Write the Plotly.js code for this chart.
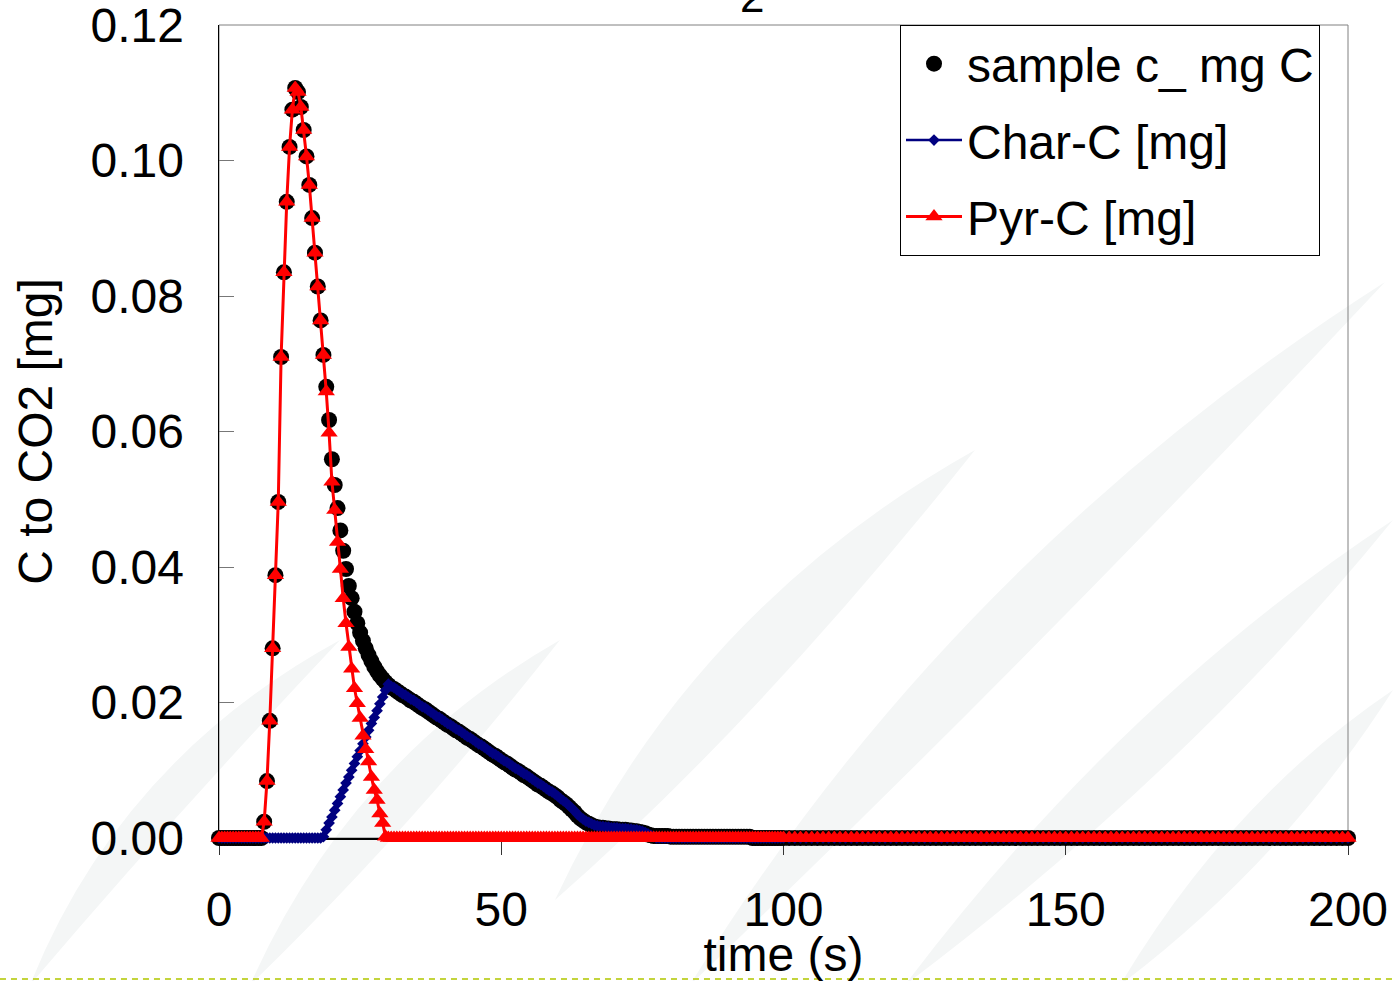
<!DOCTYPE html>
<html>
<head>
<meta charset="utf-8">
<script src="https://cdn.plot.ly/plotly-3.0.1.min.js"></script>
<style>
  html, body { margin: 0; padding: 0; background: #ffffff; }
  #chart { width: 1393px; height: 981px; }
</style>
</head>
<body>
<div id="chart"></div>
<script>
// ---------------- data ----------------
const time = [
  0,0.5,1,1.5,2,2.5,3,3.5,4,4.5,
  5,5.5,6,6.5,7,7.5,8,8.5,9,9.5,
  10,10.5,11,11.5,12,12.5,13,13.5,14,14.5,
  15,15.5,16,16.5,17,17.5,18,18.5,19,19.5,
  20,20.5,21,21.5,22,22.5,23,23.5,24,24.5,
  25,25.5,26,26.5,27,27.5,28,28.5,29,29.5,
  30,30.5,31,31.5,32,32.5,33,33.5,34,34.5,
  35,35.5,36,36.5,37,37.5,38,38.5,39,39.5,
  40,40.5,41,41.5,42,42.5,43,43.5,44,44.5,
  45,45.5,46,46.5,47,47.5,48,48.5,49,49.5,
  50,50.5,51,51.5,52,52.5,53,53.5,54,54.5,
  55,55.5,56,56.5,57,57.5,58,58.5,59,59.5,
  60,60.5,61,61.5,62,62.5,63,63.5,64,64.5,
  65,65.5,66,66.5,67,67.5,68,68.5,69,69.5,
  70,70.5,71,71.5,72,72.5,73,73.5,74,74.5,
  75,75.5,76,76.5,77,77.5,78,78.5,79,79.5,
  80,80.5,81,81.5,82,82.5,83,83.5,84,84.5,
  85,85.5,86,86.5,87,87.5,88,88.5,89,89.5,
  90,90.5,91,91.5,92,92.5,93,93.5,94,94.5,
  95,95.5,96,96.5,97,97.5,98,98.5,99,99.5,
  100,
  101,102,103,104,105,106,107,108,109,110,
  111,112,113,114,115,116,117,118,119,120,
  121,122,123,124,125,126,127,128,129,130,
  131,132,133,134,135,136,137,138,139,140,
  141,142,143,144,145,146,147,148,149,150,
  151,152,153,154,155,156,157,158,159,160,
  161,162,163,164,165,166,167,168,169,170,
  171,172,173,174,175,176,177,178,179,180,
  181,182,183,184,185,186,187,188,189,190,
  191,192,193,194,195,196,197,198,199,200
];

const sampleC = [
  0,0,0,0,0,0,0,0,0,0,
  0,0,0,0,0,0,0.0024,0.0084,0.0173,0.0280,
  0.0388,0.0496,0.0710,0.0835,0.0939,0.1020,0.1075,0.1107,0.1101,0.1079,
  0.1045,0.1006,0.0964,0.0915,0.0864,0.0814,0.0764,0.0713,0.0666,0.0617,
  0.0559,0.0521,0.0487,0.0454,0.0424,0.0397,0.0372,0.0354,0.0334,0.0317,
  0.0303,0.0291,0.0280,0.0270,0.0261,0.0253,0.0246,0.0240,0.0235,0.0230,
  0.0226,0.0222,0.0220,0.0217,0.0214,0.0211,0.0209,0.0206,0.0203,0.0201,
  0.0198,0.0195,0.0192,0.0190,0.0187,0.0184,0.0181,0.0178,0.0176,0.0173,
  0.0170,0.0167,0.0165,0.0162,0.0159,0.0157,0.0154,0.0151,0.0148,0.0146,
  0.0143,0.0140,0.0137,0.0135,0.0132,0.0129,0.0126,0.0123,0.0121,0.0118,
  0.0115,0.0112,0.0110,0.0107,0.0104,0.0101,0.0099,0.0096,0.0093,0.0091,
  0.0088,0.0085,0.0082,0.0079,0.0077,0.0074,0.0071,0.0068,0.0066,0.0063,
  0.0060,0.0056,0.0053,0.0050,0.0046,0.0042,0.0038,0.0033,0.0029,0.0026,
  0.0023,0.0021,0.0019,0.0017,0.0016,0.0015,0.0015,0.0014,0.0014,0.0013,
  0.0013,0.0013,0.0012,0.0012,0.0012,0.0011,0.0011,0.0010,0.0010,0.0009,
  0.0008,0.0007,0.0005,0.0004,0.0003,0.0003,0.0003,0.0003,0.0003,0.0003,
  0.0002,0.0002,0.0002,0.0002,0.0002,0.0002,0.0002,0.0002,0.0002,0.0002,
  0.0002,0.0002,0.0002,0.0002,0.0002,0.0002,0.0002,0.0002,0.0002,0.0002,
  0.0002,0.0002,0.0002,0.0002,0.0002,0.0002,0.0002,0.0002,0.0002,0,
  0,0,0,0,0,0,0,0,0,0,
  0,
  0,0,0,0,0,0,0,0,0,0,
  0,0,0,0,0,0,0,0,0,0,
  0,0,0,0,0,0,0,0,0,0,
  0,0,0,0,0,0,0,0,0,0,
  0,0,0,0,0,0,0,0,0,0,
  0,0,0,0,0,0,0,0,0,0,
  0,0,0,0,0,0,0,0,0,0,
  0,0,0,0,0,0,0,0,0,0,
  0,0,0,0,0,0,0,0,0,0,
  0,0,0,0,0,0,0,0,0,0
];

const charC = [
  0,0,0,0,0,0,0,0,0,0,
  0,0,0,0,0,0,0,0,0,0,
  0,0,0,0,0,0,0,0,0,0,
  0,0,0,0,0,0,0,0.0002,0.0012,0.0022,
  0.0031,0.0041,0.0051,0.0061,0.0071,0.0081,0.0090,0.0100,0.0110,0.0120,
  0.0129,0.0139,0.0149,0.0159,0.0169,0.0178,0.0188,0.0198,0.0208,0.0218,
  0.0227,0.0224,0.0222,0.0219,0.0216,0.0213,0.0211,0.0208,0.0205,0.0203,
  0.0200,0.0197,0.0194,0.0192,0.0189,0.0186,0.0183,0.0180,0.0178,0.0175,
  0.0172,0.0169,0.0167,0.0164,0.0161,0.0159,0.0156,0.0153,0.0150,0.0148,
  0.0145,0.0142,0.0139,0.0137,0.0134,0.0131,0.0128,0.0125,0.0123,0.0120,
  0.0117,0.0114,0.0112,0.0109,0.0106,0.0103,0.0101,0.0098,0.0095,0.0093,
  0.0090,0.0087,0.0084,0.0081,0.0079,0.0076,0.0073,0.0070,0.0068,0.0065,
  0.0062,0.0058,0.0055,0.0052,0.0048,0.0044,0.0040,0.0035,0.0031,0.0028,
  0.0025,0.0023,0.0021,0.0019,0.0018,0.0017,0.0017,0.0016,0.0016,0.0015,
  0.0015,0.0015,0.0014,0.0014,0.0014,0.0013,0.0013,0.0012,0.0012,0.0011,
  0.0010,0.0008,0.0006,0.0004,0.0002,0,0,0,0,0,
  0,0,0,0,0,0,0,0,0,0,
  0,0,0,0,0,0,0,0,0,0,
  0,0,0,0,0,0,0,0,0,0,
  0,0,0,0,0,0,0,0,0,0,
  0,
  0,0,0,0,0,0,0,0,0,0,
  0,0,0,0,0,0,0,0,0,0,
  0,0,0,0,0,0,0,0,0,0,
  0,0,0,0,0,0,0,0,0,0,
  0,0,0,0,0,0,0,0,0,0,
  0,0,0,0,0,0,0,0,0,0,
  0,0,0,0,0,0,0,0,0,0,
  0,0,0,0,0,0,0,0,0,0,
  0,0,0,0,0,0,0,0,0,0,
  0,0,0,0,0,0,0,0,0,0
];

const pyrC = [
  0,0,0,0,0,0,0,0,0,0,
  0,0,0,0,0,0,0.0024,0.0084,0.0173,0.0280,
  0.0388,0.0496,0.0710,0.0835,0.0939,0.1020,0.1075,0.1107,0.1101,0.1079,
  0.1045,0.1006,0.0964,0.0915,0.0864,0.0814,0.0764,0.0713,0.0659,0.0598,
  0.0526,0.0484,0.0437,0.0397,0.0354,0.0317,0.0282,0.0250,0.0221,0.0199,
  0.0177,0.0151,0.0131,0.0113,0.0090,0.0071,0.0056,0.0036,0.0022,0.0002,
  0,0,0,0,0,0,0,0,0,0,
  0,0,0,0,0,0,0,0,0,0,
  0,0,0,0,0,0,0,0,0,0,
  0,0,0,0,0,0,0,0,0,0,
  0,0,0,0,0,0,0,0,0,0,
  0,0,0,0,0,0,0,0,0,0,
  0,0,0,0,0,0,0,0,0,0,
  0,0,0,0,0,0,0,0,0,0,
  0,0,0,0,0,0,0,0,0,0,
  0,0,0,0,0,0,0,0,0,0,
  0,0,0,0,0,0,0,0,0,0,
  0,0,0,0,0,0,0,0,0,0,
  0,0,0,0,0,0,0,0,0,0,
  0,0,0,0,0,0,0,0,0,0,
  0,
  0,0,0,0,0,0,0,0,0,0,
  0,0,0,0,0,0,0,0,0,0,
  0,0,0,0,0,0,0,0,0,0,
  0,0,0,0,0,0,0,0,0,0,
  0,0,0,0,0,0,0,0,0,0,
  0,0,0,0,0,0,0,0,0,0,
  0,0,0,0,0,0,0,0,0,0,
  0,0,0,0,0,0,0,0,0,0,
  0,0,0,0,0,0,0,0,0,0,
  0,0,0,0,0,0,0,0,0,0
];

const seriesNames = ['sample c_ mg C', 'Char-C [mg]', 'Pyr-C [mg]'];
const xTickVals = [0, 50, 100, 150, 200];
const xTickText = ['0', '50', '100', '150', '200'];
const yTickVals = [0, 0.02, 0.04, 0.06, 0.08, 0.10, 0.12];
const yTickText = ['0.00', '0.02', '0.04', '0.06', '0.08', '0.10', '0.12'];
const xTitle = 'time (s)';
const yTitle = 'C to CO2 [mg]';
const topFragment = '2';

// ---------------- styling ----------------
const FONT = 'Liberation Sans, Arial, Helvetica, sans-serif';
const FS = 48;
const M = { l: 219, r: 45, t: 25, b: 143 };
const W = 1393, H = 981;
const PW = W - M.l - M.r, PH = H - M.t - M.b;

// decorative watermark (pixel coords -> paper)
function px(x) { return ((x - M.l) / PW).toFixed(4); }
function py(y) { return ((H - M.b - y) / PH).toFixed(4); }
function crescent(a, b, c1, c2) {
  return 'M' + px(a[0]) + ',' + py(a[1]) +
         ' Q' + px(c1[0]) + ',' + py(c1[1]) + ' ' + px(b[0]) + ',' + py(b[1]) +
         ' Q' + px(c2[0]) + ',' + py(c2[1]) + ' ' + px(a[0]) + ',' + py(a[1]) + ' Z';
}
const swooshes = [
  [[555, 900], [975, 450], [690, 610], [760, 720]],
  [[690, 985], [1385, 282], [950, 560], [1030, 660]],
  [[905, 985], [1393, 520], [1120, 700], [1190, 770]],
  [[1120, 985], [1393, 690], [1230, 800], [1285, 860]],
  [[30, 985], [340, 640], [120, 760], [170, 820]],
  [[250, 985], [560, 640], [350, 760], [410, 830]]
];
const shapes = swooshes.map(s => ({
  type: 'path', xref: 'paper', yref: 'paper', layer: 'below',
  path: crescent(s[0], s[1], s[2], s[3]),
  fillcolor: '#f4f6f6', line: { width: 0 }
}));
// plot frame (grey top/right)
shapes.push({ type: 'rect', xref: 'paper', yref: 'paper', x0: 0, x1: 1, y0: 0, y1: 1,
  layer: 'below', line: { color: '#808080', width: 1 }, fillcolor: 'rgba(0,0,0,0)' });
// dashed line at the bottom of the slide
shapes.push({ type: 'line', xref: 'paper', yref: 'paper',
  x0: px(0), x1: px(W), y0: py(979), y1: py(979),
  line: { color: '#c3d43c', width: 2, dash: '6px,5px' } });

const traces = [
  {
    x: time, y: sampleC, name: seriesNames[0], type: 'scatter', mode: 'markers',
    legendgroup: 'g1', cliponaxis: false,
    marker: { symbol: 'circle', size: 16, color: '#000000' }
  },
  {
    x: time, y: charC, name: seriesNames[1], type: 'scatter', mode: 'lines+markers',
    legendgroup: 'g2', cliponaxis: false,
    line: { color: '#000080', width: 2.5 },
    marker: { symbol: 'diamond', size: 9, color: '#000080' }
  },
  {
    x: time, y: pyrC, name: seriesNames[2], type: 'scatter', mode: 'lines+markers',
    legendgroup: 'g3', cliponaxis: false,
    line: { color: '#ff0000', width: 3 },
    marker: { symbol: 'triangle-up', size: 15, color: '#ff0000' }
  }
];

const layout = {
  width: W, height: H,
  margin: { l: M.l, r: M.r, t: M.t, b: M.b, pad: 0 },
  paper_bgcolor: '#ffffff',
  plot_bgcolor: 'rgba(0,0,0,0)',
  font: { family: FONT, size: FS, color: '#000000' },
  showlegend: true,
  legend: {
    x: (900 - M.l) / PW, y: 1, xanchor: 'left', yanchor: 'top',
    bgcolor: '#ffffff', bordercolor: '#000000', borderwidth: 1,
    font: { family: FONT, size: FS, color: '#000000' },
    tracegroupgap: 11, itemwidth: 56
  },
  xaxis: {
    range: [0, 200], tickmode: 'array', tickvals: xTickVals, ticktext: xTickText,
    ticks: 'outside', ticklen: 15, tickwidth: 1, tickcolor: '#333333',
    showline: true, linecolor: '#000000', linewidth: 1.5,
    showgrid: false, zeroline: false, layer: 'below traces',
    tickfont: { family: FONT, size: FS, color: '#000000' },
    ticklabelstandoff: 14, ticklabeloverflow: 'allow',
    title: { text: xTitle, font: { family: FONT, size: FS, color: '#000000' }, standoff: 0 },
    automargin: false, fixedrange: true
  },
  xaxis2: {
    overlaying: 'x', matches: 'x', anchor: 'y', side: 'bottom',
    range: [0, 200], tickmode: 'array', tickvals: xTickVals,
    ticks: 'inside', ticklen: 15, tickwidth: 1, tickcolor: '#333333',
    showticklabels: false, showline: false, showgrid: false, zeroline: false,
    layer: 'below traces'
  },
  yaxis: {
    range: [0, 0.12], tickmode: 'array', tickvals: yTickVals, ticktext: yTickText,
    ticks: 'inside', ticklen: 15, tickwidth: 1, tickcolor: '#777777',
    showline: true, linecolor: '#000000', linewidth: 1.5,
    showgrid: false, zeroline: false, layer: 'below traces',
    tickfont: { family: FONT, size: FS, color: '#000000' },
    ticklabelstandoff: 24, ticklabeloverflow: 'allow',
    title: { text: yTitle, font: { family: FONT, size: FS, color: '#000000' }, standoff: 22 },
    automargin: false, fixedrange: true
  },
  shapes: shapes,
  annotations: [
    { text: topFragment, xref: 'paper', yref: 'paper', x: (752 - M.l) / PW, y: (H - M.b - 23) / PH,
      xanchor: 'center', yanchor: 'bottom', showarrow: false,
      font: { family: FONT, size: 44, color: '#000000' } }
  ]
};

Plotly.newPlot('chart', traces, layout, { displayModeBar: false, staticPlot: true });
</script>
</body>
</html>
